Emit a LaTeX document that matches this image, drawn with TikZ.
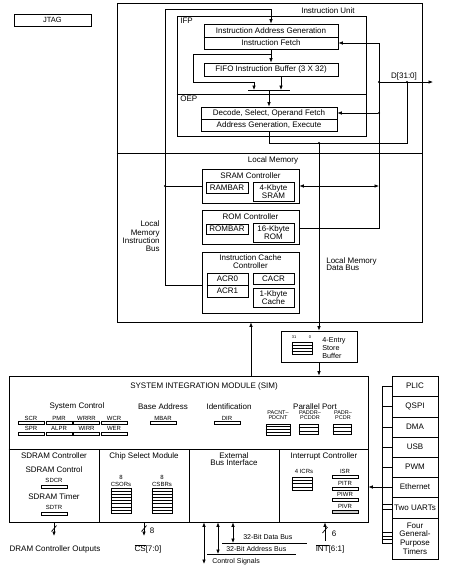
\documentclass[tikz,border=0pt]{standalone}
\usepackage{fontspec}
\setmainfont{Liberation Sans}
\usetikzlibrary{arrows.meta,fit,calc}
\newcommand\fsz[1]{\fontsize{#1}{#1}\selectfont}
\newcommand\bxn[7][]{%
  \pgfmathsetmacro\bw{#5-#3}\pgfmathsetmacro\bh{#6-#4}%
  \pgfmathsetmacro\bcx{(#3+#5)/2}\pgfmathsetmacro\bcy{(#4+#6)/2}%
  \node[draw,inner sep=0pt,minimum width=\bw pt,minimum height=\bh pt,#1] (#2) at (\bcx,\bcy) {#7};}
\newcommand\stk[6]{%
  \bxn[line width=0.6pt]{#1}{#2}{#3}{#4}{#5}{}
  \foreach \i in {1,...,#6} {
    \draw[line width=0.5pt] ($(#1.north west)!{\i/(#6+1)}!(#1.south west)$) -- ($(#1.north east)!{\i/(#6+1)}!(#1.south east)$);
  }}
\begin{document}
\begin{tikzpicture}[x=1pt,y=-1pt,line width=0.7pt,
  every node/.style={inner sep=0pt,font=\fsz{8}},
  reg/.style={font=\fsz{6}},
  regbar/.style={draw, line width=0.6pt, minimum width=26pt, minimum height=2.6pt, inner sep=0pt},
  two/.style={align=center, font=\fontsize{8}{7.6}\selectfont},
  >={Latex[length=4.5pt,width=3.6pt]},
  dot/.style={circle, fill, minimum size=2.2pt, inner sep=0pt}]
\fill[white] (0,0) rectangle (467,566);
\useasboundingbox (0,0) rectangle (467,566);

% ---------- JTAG ----------
\bxn[font=\fsz{7.5}]{jtag}{14}{14}{91}{26}{JTAG}

% ---------- CPU core box ----------
\bxn{cpu}{117}{3}{422}{322}{}
\draw (cpu.west |- 0,153) -- (cpu.east |- 0,153);
\node (iu) at (328,11) {Instruction Unit};

\bxn{ifp}{177}{16}{366}{136}{}
\draw (ifp.west |- 0,94) -- (ifp.east |- 0,94);
\node[anchor=west] (ifpl) at (180,21) {IFP};
\node[anchor=west] (oepl) at (180,99) {OEP};

\bxn{iag}{204}{24}{338}{49}{}
\draw (iag.west |- 0,37) -- (iag.east |- 0,37);
\node (iagt) at (271,30.5) {Instruction Address Generation};
\node (ift) at (271,43) {Instruction Fetch};

\bxn{fifo}{204}{63}{338}{76}{FIFO Instruction Buffer (3 X 32)}

\bxn{dec}{201}{107}{337}{131}{}
\draw (dec.west |- 0,119) -- (dec.east |- 0,119);
\node (dect) at (269,113) {Decode, Select, Operand Fetch};
\node (aget) at (269,125) {Address Generation, Execute};

% ---------- Local memory ----------
\node (lml) at (273,160) {Local Memory};
\bxn{sram}{202}{169}{299}{203}{}
\node (sramt) at (250.5,175.5) {SRAM Controller};
\bxn{rambar}{206}{182}{248}{193}{RAMBAR}
\bxn[two]{srammem}{253}{182}{294}{201}{4-Kbyte\\SRAM}

\bxn{rom}{202}{210}{299}{244}{}
\node (romt) at (250.5,216.5) {ROM Controller};
\bxn{rombar}{206}{224}{248}{234}{ROMBAR}
\bxn[two]{rommem}{253}{223}{294}{242}{16-Kbyte\\ROM}

\bxn{icache}{202}{252}{299}{313}{}
\node[align=center, font=\fontsize{8}{8}\selectfont] (ict) at (250.5,262) {Instruction Cache\\Controller};
\bxn{acr}{207}{273}{248}{297}{}
\draw (acr.west |- 0,285) -- (acr.east |- 0,285);
\node (acr0) at (227.5,279) {ACR0};
\node (acr1) at (227.5,291) {ACR1};
\bxn{cacr}{253}{273}{294}{284}{CACR}
\bxn[two]{cache}{253}{288}{294}{307}{1-Kbyte\\Cache}

\node[align=right, anchor=east, font=\fontsize{8}{8.4}\selectfont] (lmib) at (160,236.5) {Local\\Memory\\Instruction\\Bus};
\node[align=left, anchor=west, font=\fontsize{8}{7.2}\selectfont] (lmdb) at (326,264.5) {Local Memory\\Data Bus};

% ---------- Instruction unit wiring ----------
\draw[->] (icache.west |- 0,285) -- (165,285) -- (165,9) -- (271,9) -- (271,0 |- iag.north);
\node[dot] (d1) at (165,186) {};
\draw (d1) -- (sram.west |- 0,186);
\draw[->] (271,0 |- iag.south) -- (271,0 |- fifo.north);
\draw[->] (271,54) -- (193,54) -- (193,82) -- (254,82) -- (254,90);
\draw[->] (281,0 |- fifo.south) -- (281,90);
\draw (248,90) -- (290,90);
\coordinate (mux) at (269,90);
\draw[->] (mux) -- (269,0 |- dec.north);
\node[dot] (d2) at (407,82) {};
\node[dot] (d3) at (379,82) {};
\node[dot] (d4) at (379,113) {};
\node[dot] (d5) at (319,143) {};
\draw (269,0 |- dec.south) -- (269,143) -- (407,143) -- (d2);
\coordinate (dout) at (433,82);
\draw[->] (d3) -- (dout);
\node (dlab) at (404,76) {D[31:0]};
\draw[->] (rom.east |- 0,228) -- (379,228) -- (379,43) -- (iag.east |- 0,43);
\draw[->] (d4) -- (dec.east |- 0,113);
\draw[<->] (sram.east |- 0,186) -- (379,186);

% ---------- Store buffer ----------
\bxn{sb}{281}{331}{357}{362}{}
\stk{sbs}{292}{342}{312}{354}{3}
\node[font=\fsz{4}] (b31) at (294,337) {31};
\node[font=\fsz{4}] (b0) at (310,337) {0};
\node[align=left, anchor=west, font=\fontsize{7.2}{7.6}\selectfont] (sbt) at (322,348) {4-Entry\\Store\\Buffer};
\draw[->] (d5) -- (319,0 |- sb.north);

% ---------- SIM ----------
\bxn{sim}{9}{376}{368}{522}{}
\draw[->] (319,0 |- sb.south) -- (319,0 |- sim.north);
\draw[->] (251,0 |- sim.north) -- (251,0 |- cpu.south);
\draw (sim.west |- 0,449) -- (sim.east |- 0,449);
\foreach \x in {99,189,279} \draw (\x,449) -- (\x,0 |- sim.south);
\node (simt) at (204,386) {SYSTEM INTEGRATION MODULE (SIM)};

\node (sysc) at (77,406.5) {System Control};
\node (basa) at (163,406.5) {Base Address};
\node (ident) at (229,406.5) {Identification};
\node (parp) at (315,406.5) {Parallel Port};

\foreach \x/\a/\b [count=\k] in {31/SCR/SPR, 59/PMR/ALPR, 86.5/WRRR/WIRR, 114/WCR/WER}{
  \node[reg] (ra\k) at (\x,418) {\a};
  \node[regbar] (rba\k) at (\x,423) {};
  \node[reg] (rb\k) at (\x,428.5) {\b};
  \node[regbar] (rbb\k) at (\x,434) {};
}
\node[reg] (mbar) at (163,418) {MBAR};
\node[regbar] (mbarb) at (163,423) {};
\node[reg] (dir) at (227,418) {DIR};
\node[regbar] (dirb) at (227,423) {};

\node[align=center, font=\fontsize{5.5}{4.9}\selectfont] (pa1) at (278,415.5) {PACNT--\\PDCNT};
\node[align=center, font=\fontsize{5.5}{4.9}\selectfont] (pa2) at (310,415.5) {PADDR--\\PCDDR};
\node[align=center, font=\fontsize{5.5}{4.9}\selectfont] (pa3) at (343,415.5) {PADR--\\PCDR};
\stk{ps1}{266}{424}{290}{435}{3}
\stk{ps2}{299}{424}{318}{434}{2}
\stk{ps3}{333}{424}{351}{434}{2}

% SDRAM
\node (sdt) at (54,456) {SDRAM Controller};
\node (sdc) at (54,470) {SDRAM Control};
\node[reg] (sdcr) at (54,480) {SDCR};
\node[regbar] (sdcrb) at (54,487) {};
\node (sdtm) at (54,497) {SDRAM Timer};
\node[reg] (sdtr) at (54,507) {SDTR};
\node[regbar] (sdtrb) at (54,514) {};

% Chip select
\node (cst) at (144,456) {Chip Select Module};
\node[align=center, font=\fontsize{6}{6.5}\selectfont] (cso) at (121,481) {8\\CSORs};
\node[align=center, font=\fontsize{6}{6.5}\selectfont] (csb) at (162,481) {8\\CSBRs};
\stk{cs1}{111}{488}{131}{513}{7}
\stk{cs2}{152}{488}{172}{513}{7}

% External bus
\node[align=center, font=\fontsize{8}{7.2}\selectfont] (ebi) at (234,459.5) {External\\Bus Interface};

% Interrupt controller
\node (ict2) at (324,456) {Interrupt Controller};
\node[reg] (icrs) at (304,471) {4 ICRs};
\stk{ics}{292}{477}{312}{490}{3}
\node[reg] (isr) at (345,471) {ISR};
\node[regbar] (isrb) at (345,477) {};
\node[reg] (pitr) at (345,483) {PITR};
\node[regbar] (pitrb) at (345,488.5) {};
\node[reg] (piwr) at (345,494.5) {PIWR};
\node[regbar] (piwrb) at (345,500) {};
\node[reg] (pivr) at (345,506) {PIVR};
\node[regbar, fill=gray!40] (pivrb) at (345,512) {};

% ---------- Peripherals ----------
\bxn{plic}{392}{376}{438}{396}{PLIC}
\bxn{qspi}{392}{396}{438}{417}{QSPI}
\bxn{dma}{392}{417}{438}{437}{DMA}
\bxn{usb}{392}{437}{438}{457}{USB}
\bxn{pwm}{392}{457}{438}{477}{PWM}
\bxn{eth}{392}{477}{438}{497}{Ethernet}
\bxn{uart}{392}{497}{438}{518}{Two UARTs}
\bxn[align=center, font=\fontsize{8}{8.6}\selectfont]{tmr}{392}{518}{438}{559}{Four\\General-\\Purpose\\Timers}
\coordinate (pbtop) at (382,386);
\coordinate (pbbot) at (382,543);
\draw (pbtop) -- (pbbot);
\foreach \y in {386,406.5,427,447,467,504,509,532,536,539.5,543}
  \draw (382,\y) -- (392,\y);
\draw[->] (eth.west) -- (sim.east |- eth.west);

% ---------- Signals below SIM ----------
\coordinate (dramo) at (54,536);
\draw[->] (54,0 |- sim.south) -- (dramo);
\draw (51.5,531.5) -- (56.5,525.5);
\node (dramt) at (55,549) {DRAM Controller Outputs};

\coordinate (cso2) at (144,536);
\draw[->] (144,0 |- sim.south) -- (cso2);
\draw (141.5,531.5) -- (146.5,525.5);
\node (cs8) at (152,531) {8};
\node (cst2) at (148,549) {$\overline{\hbox{CS}}$[7:0]};

\coordinate (ctl) at (204,564);
\draw[<->] (204,0 |- sim.south) -- (ctl);
\node[anchor=west, font=\fsz{7}] (ctlt) at (212,561.5) {Control Signals};

\coordinate (abl) at (207,554);
\coordinate (abr) at (296,554);
\draw (abl) -- (abr);
\draw[<->] (218,0 |- sim.south) -- (218,0 |- abl);
\node[anchor=west, font=\fsz{7}] (abt) at (226,548.5) {32-Bit Address Bus};

\coordinate (dbl) at (222,543);
\coordinate (dbr) at (307,543);
\draw (dbl) -- (dbr);
\draw[<->] (233,0 |- sim.south) -- (233,0 |- dbl);
\node[anchor=west, font=\fsz{7}] (dbt) at (243,536.5) {32-Bit Data Bus};

\coordinate (inti) at (325,541);
\draw[->] (inti) -- (325,0 |- sim.south);
\draw (322.5,533) -- (327.5,527);
\node (int6) at (334,534) {6};
\node (intt) at (330,549) {$\overline{\hbox{INT}}$[6:1]};
\end{tikzpicture}
\end{document}
